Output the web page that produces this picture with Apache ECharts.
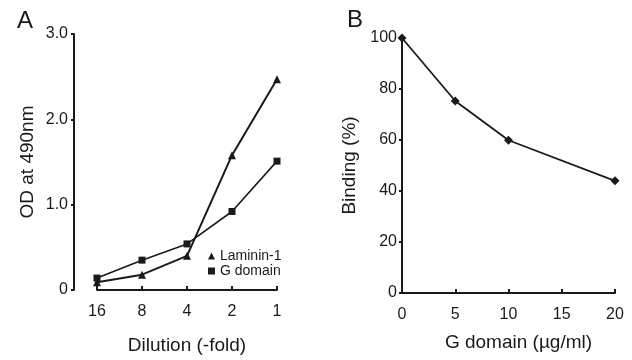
<!DOCTYPE html>
<html>
<head>
<meta charset="utf-8">
<script src="https://cdn.jsdelivr.net/npm/echarts@6/dist/echarts.min.js"></script>
<style>
  html, body { margin: 0; padding: 0; background: #fff; }
  #main { width: 632px; height: 360px; }
</style>
</head>
<body>
<div id="main"></div>
<script>
// panel A: ELISA dilution series
var dilutions = ['16', '8', '4', '2', '1'];
var laminin1 = [0.09, 0.18, 0.40, 1.58, 2.47];
var gDomain = [0.14, 0.35, 0.54, 0.92, 1.51];

// panel B: inhibition by G domain
var gConc = [0, 5, 10, 20];
var binding = [100, 75.3, 59.9, 44.0];

var font = 'Liberation Sans, Arial, Helvetica, sans-serif';
var ink = '#1a1a1a';

var axisLine = { lineStyle: { color: ink, width: 2 } };

option = {
    animation: false,
    textStyle: { fontFamily: font, color: ink },
    title: [
        { text: 'A', left: 12, top: 4, textStyle: { fontSize: 24, fontWeight: 'normal', color: ink, fontFamily: font } },
        { text: 'B', left: 342, top: 3, textStyle: { fontSize: 24, fontWeight: 'normal', color: ink, fontFamily: font } }
    ],
    legend: {
        orient: 'vertical',
        left: 208,
        top: 249,
        padding: 0,
        itemWidth: 7,
        itemHeight: 7,
        itemGap: 1,
        selectedMode: false,
        textStyle: { fontSize: 14, color: ink, fontFamily: font },
        data: [
            { name: 'Laminin-1', icon: 'triangle' },
            { name: 'G domain', icon: 'rect' }
        ]
    },
    grid: [
        { left: 97, top: 34, width: 180, height: 258 },
        { left: 402, top: 38, width: 213, height: 255 }
    ],
    xAxis: [
        {
            gridIndex: 0,
            type: 'category',
            data: dilutions,
            boundaryGap: false,
            name: 'Dilution (-fold)',
            nameLocation: 'middle',
            nameGap: 46,
            nameTextStyle: { fontSize: 19, color: ink },
            axisLine: axisLine,
            axisTick: { inside: true, length: 4, lineStyle: { color: ink, width: 2 } },
            axisLabel: { fontSize: 16, color: ink, margin: 14 },
            splitLine: { show: false }
        },
        {
            gridIndex: 1,
            type: 'value',
            min: 0,
            max: 20,
            interval: 5,
            name: 'G domain (\u00b5g/ml)',
            nameLocation: 'middle',
            nameGap: 40,
            nameTextStyle: { fontSize: 19, color: ink, padding: [0, 0, 0, 20] },
            axisLine: axisLine,
            axisTick: { inside: true, length: 4, lineStyle: { color: ink, width: 2 } },
            axisLabel: { fontSize: 16, color: ink, margin: 14 },
            splitLine: { show: false }
        }
    ],
    yAxis: [
        {
            gridIndex: 0,
            type: 'value',
            min: 0,
            max: 3,
            interval: 1,
            offset: 23,
            name: 'OD at 490nm',
            nameLocation: 'middle',
            nameGap: 37,
            nameTextStyle: { fontSize: 19, color: ink },
            axisLine: { show: true, lineStyle: { color: ink, width: 2 } },
            axisTick: { show: true, length: 3, lineStyle: { color: ink, width: 2 } },
            axisLabel: {
                fontSize: 16, color: ink, margin: 6,
                formatter: function (v) { return v === 0 ? '0' : v.toFixed(1); }
            },
            splitLine: { show: false }
        },
        {
            gridIndex: 1,
            type: 'value',
            min: 0,
            max: 100,
            interval: 20,
            name: 'Binding (%)',
            nameLocation: 'middle',
            nameGap: 43,
            nameTextStyle: { fontSize: 19, color: ink },
            axisLine: { show: true, lineStyle: { color: ink, width: 2 } },
            axisTick: { show: true, length: 3, lineStyle: { color: ink, width: 2 } },
            axisLabel: { fontSize: 16, color: ink, margin: 5 },
            splitLine: { show: false }
        }
    ],
    series: [
        {
            name: 'Laminin-1',
            type: 'line',
            xAxisIndex: 0,
            yAxisIndex: 0,
            data: laminin1,
            symbol: 'triangle',
            symbolSize: 8,
            lineStyle: { color: ink, width: 2 },
            itemStyle: { color: ink }
        },
        {
            name: 'G domain',
            type: 'line',
            xAxisIndex: 0,
            yAxisIndex: 0,
            data: gDomain,
            symbol: 'rect',
            symbolSize: 7,
            lineStyle: { color: ink, width: 1.6 },
            itemStyle: { color: ink }
        },
        {
            name: 'Binding',
            type: 'line',
            xAxisIndex: 1,
            yAxisIndex: 1,
            data: gConc.map(function (c, i) { return [c, binding[i]]; }),
            symbol: 'diamond',
            symbolSize: 9,
            lineStyle: { color: ink, width: 1.8 },
            itemStyle: { color: ink }
        }
    ]
};

var myChart = echarts.init(document.getElementById('main'));
myChart.setOption(option);
</script>
</body>
</html>
